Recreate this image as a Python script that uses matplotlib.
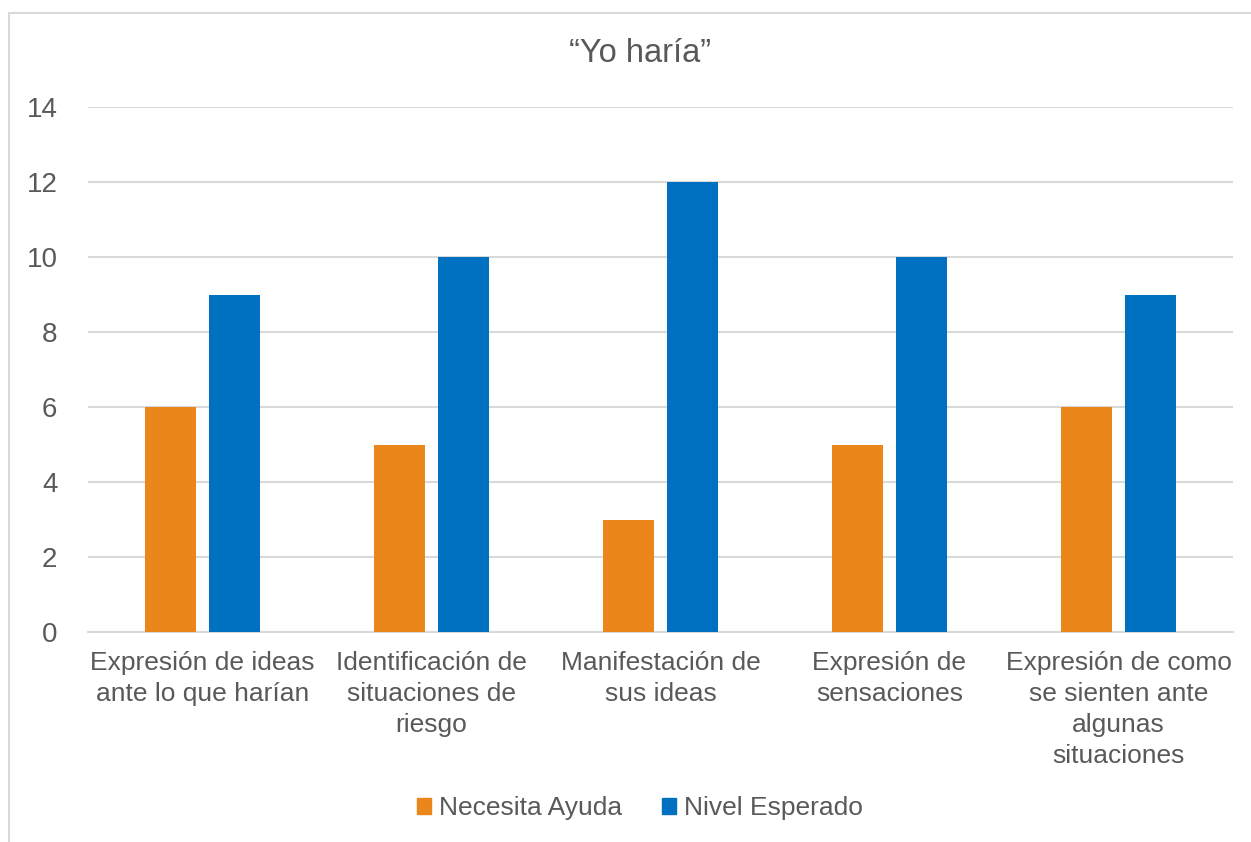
import numpy as np
import matplotlib.pyplot as plt
from matplotlib.patches import Patch, Rectangle

# data
categories = [
    "Expresión de ideas\nante lo que harían",
    "Identificación de\nsituaciones de\nriesgo",
    "Manifestación de\nsus ideas",
    "Expresión de\nsensaciones",
    "Expresión de como\nse sienten ante\nalgunas\nsituaciones",
]
necesita_ayuda = [6, 5, 3, 5, 6]
nivel_esperado = [9, 10, 12, 10, 9]
series_names = ["Necesita Ayuda", "Nivel Esperado"]

orange = "#EA861A"
blue = "#0070C0"
text_col = "#595959"
grid_col = "#D9D9D9"

plt.rcParams['font.family'] = ['Liberation Sans', 'DejaVu Sans']

fig = plt.figure(figsize=(12.51, 8.42), dpi=100)
ax = fig.add_axes([88 / 1251, 1 - 632 / 842, (1233 - 88) / 1251, (632 - 107) / 842])

x = np.arange(len(categories))
w = 0.223
off = 0.141
ax.bar(x - off, necesita_ayuda, w, color=orange, zorder=3)
ax.bar(x + off, nivel_esperado, w, color=blue, zorder=3)

ax.set_xlim(-0.5, len(categories) - 0.5)
ax.set_ylim(0, 14)
ax.set_yticks(range(0, 15, 2))
ax.yaxis.grid(True, color=grid_col, linewidth=1.5, zorder=0)
ax.set_xticks(x)
ax.set_xticklabels(categories, fontsize=19, color=text_col, linespacing=1.36)
ax.tick_params(axis='y', labelsize=20, labelcolor=text_col, length=0, pad=22)
ax.tick_params(axis='x', length=0, pad=14)
for s in ['top', 'right', 'left']:
    ax.spines[s].set_visible(False)
ax.spines['bottom'].set_color(grid_col)
ax.spines['bottom'].set_linewidth(1.5)

fig.text(640 / 1251, 1 - 53 / 842, "\u201cYo haría\u201d", ha='center', va='center',
         fontsize=23.5, color=text_col)

handles = [Patch(color=orange), Patch(color=blue)]
fig.legend(handles, series_names, loc='center', bbox_to_anchor=(640 / 1251, 1 - 808 / 842),
           ncol=2, frameon=False, fontsize=19, labelcolor=text_col,
           handlelength=0.55, handleheight=0.55, handletextpad=0.3, columnspacing=1.5)

# chart border
fig.patches.append(Rectangle((9 / 1251, -0.1), 1.2, 0.1 + 829 / 842, transform=fig.transFigure,
                             fill=False, edgecolor=grid_col, linewidth=1.5))

fig.savefig("out.png", dpi=100, facecolor='white')
